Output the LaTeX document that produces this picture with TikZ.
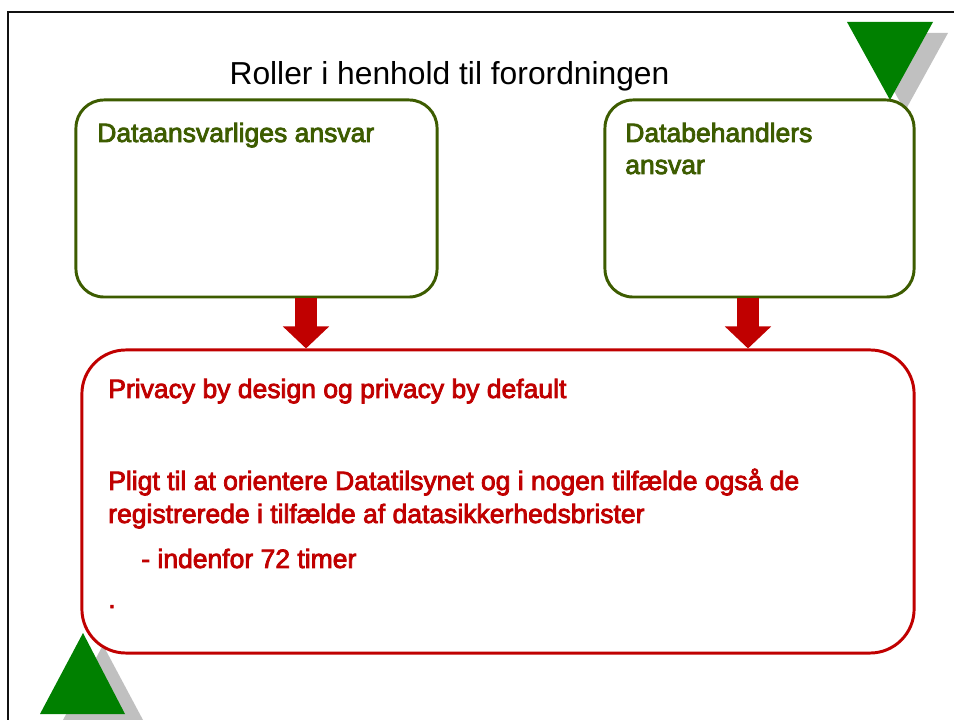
\documentclass[tikz,border=0pt]{standalone}
\usepackage{fontspec}
\setmainfont{Liberation Sans}
\newfontfamily\boxfont{Liberation Sans}[FakeBold=3]
\usetikzlibrary{arrows.meta, calc}
\definecolor{oliveLine}{HTML}{3D5C00}
\definecolor{oliveText}{HTML}{3D5C00}
\definecolor{dutyLine}{HTML}{C00000}
\definecolor{dutyText}{HTML}{C00000}
\definecolor{triGreen}{HTML}{008000}
\definecolor{triShadow}{HTML}{C0C0C0}
\definecolor{frameBlack}{HTML}{111111}

\begin{document}
\begin{tikzpicture}[
  x=0.025cm, y=-0.025cm,
  role/.style    ={rounded corners=0.7cm, draw=oliveLine, line width=2.1pt, fill=white,
                   inner sep=0pt, minimum height=4.925cm},
  duty/.style    ={rounded corners=1.1cm, draw=dutyLine, line width=2.1pt, fill=white,
                   inner sep=0pt, minimum width=20.8cm, minimum height=7.575cm},
  roletxt/.style ={font=\boxfont\fontsize{18.85pt}{22.8pt}\selectfont, text=oliveText,
                   anchor=base west, inner sep=0pt},
  dutytxt/.style ={font=\boxfont\fontsize{18.85pt}{22.8pt}\selectfont, text=dutyText,
                   anchor=base west, inner sep=0pt},
  heading/.style ={font=\fontsize{22.6pt}{27pt}\selectfont, text=black, anchor=base, inner sep=0pt},
  blockarrow/.style={-{Triangle[width=1.125cm, length=0.55cm]}, draw=dutyLine, line width=0.55cm},
]
\useasboundingbox (0,0) rectangle (954,720);

% ----- Frame -----
\draw[frameBlack, line width=1.5pt] (8,720) -- (8,12) -- (954,12);

% ----- Corner triangles -----
\fill[triShadow] (862,33) -- (948,33) -- (905,111) -- cycle;
\fill[triGreen]  (847,22) -- (933,22) -- (890,100) -- cycle;
\fill[triShadow] (103,645) -- (143,720) -- (63,720) -- cycle;
\fill[triGreen]  (83,633) -- (125,714) -- (40,714) -- cycle;

% ----- Title -----
\node[heading] (TITLE) at (449.5,85) {Roller i henhold til forordningen};

% ----- Role boxes -----
\node[role, minimum width=9.025cm] (CTRL) at (256.5,198.5) {};
\node[role, minimum width=7.725cm] (PROC) at (759.5,198.5) {};

\node[roletxt] (CTRLtxt) at (97,142) {Dataansvarliges ansvar};
\node[roletxt] (PROCtxt) at (625,142) {Databehandlers};
\node[roletxt] (PROCtxtB) at (625,174) {ansvar};

% ----- Shared duties -----
\node[duty] (DUTY) at (498,501.5) {};

\node[dutytxt] (PBD)    at (108,398) {Privacy by design og privacy by default};
\node[dutytxt] (NOTIFY) at (108,490) {Pligt til at orientere Datatilsynet og i nogen tilfælde også de};
\node[dutytxt] (NOTIFYb) at (108,523) {registrerede i tilfælde af datasikkerhedsbrister};
\node[dutytxt] (DEADLINE) at (141,568) {- indenfor 72 timer};
\node[dutytxt] (DOT)    at (108,608) {.};

% ----- Block arrows -----
\coordinate (ctrlArrow) at (306,0);
\coordinate (procArrow) at (748,0);
\draw[blockarrow] (CTRL.south -| ctrlArrow) -- (DUTY.north -| ctrlArrow);
\draw[blockarrow] (PROC.south -| procArrow) -- (DUTY.north -| procArrow);

\end{tikzpicture}
\end{document}
